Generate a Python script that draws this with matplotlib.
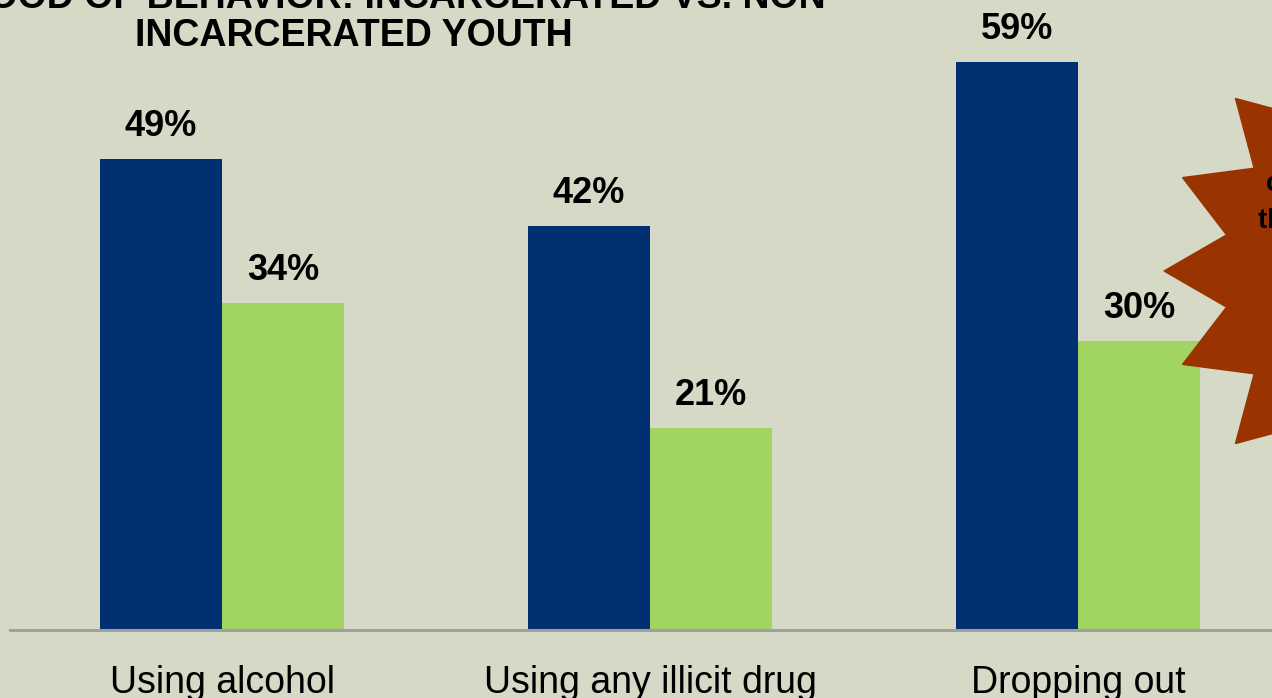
import numpy as np
import matplotlib.pyplot as plt
from matplotlib.patches import Polygon
from matplotlib import rcParams
rcParams['font.family'] = ['Liberation Sans', 'DejaVu Sans']

categories = ["Using alcohol", "Using any illicit drug", "Dropping out"]
incarcerated = [49, 42, 59]
non_incarcerated = [34, 21, 30]
title_line1 = "LIKELIHOOD OF BEHAVIOR: INCARCERATED VS. NON-"
title_line2 = "INCARCERATED YOUTH"
burst_lines = ["compared to", "their peers"]

bg = "#D6D9C6"
blue = "#003072"
green = "#A2D463"
burst = "#993300"

W, H = 1272, 698
fig = plt.figure(figsize=(W / 100, H / 100), dpi=100, facecolor=bg)

# main bar axes: baseline at y=630 px, 9.62 px per percent
ax = fig.add_axes([10 / W, (H - 630) / H, 1262 / W, 630 / H])
ax.set_facecolor(bg)
x = np.arange(len(categories))
bw = 122 / 428
ax.bar(x - bw / 2, incarcerated, bw, color=blue, zorder=2)
ax.bar(x + bw / 2, non_incarcerated, bw, color=green, zorder=2)
for xi, v in zip(x - bw / 2, incarcerated):
    ax.annotate(f"{v}%", (xi, v), xytext=(0, 15), textcoords="offset pixels",
                ha="center", va="bottom", fontsize=26, fontweight="bold")
for xi, v in zip(x + bw / 2, non_incarcerated):
    ax.annotate(f"{v}%", (xi, v), xytext=(0, 15), textcoords="offset pixels",
                ha="center", va="bottom", fontsize=26, fontweight="bold")

ax.set_xlim(-212 / 428, 1050 / 428)
ax.set_ylim(0, 630 / 9.62)
ax.set_xticks(x)
ax.set_xticklabels(categories, fontsize=27)
ax.tick_params(axis="x", length=0, pad=25)
ax.set_yticks([])
for s in ["top", "right", "left"]:
    ax.spines[s].set_visible(False)
ax.spines["bottom"].set_color("#A0A0A0")
ax.spines["bottom"].set_linewidth(2.2)
ax.spines["bottom"].set_zorder(3)

# overlay in pixel coords for title and starburst
ov = fig.add_axes([0, 0, 1, 1], facecolor="none")
ov.set_xlim(0, W)
ov.set_ylim(H, 0)
ov.axis("off")

cx, cy, r_out, r_in, n = 1408, 271, 244, 185, 16
ang = np.pi + np.arange(2 * n) * np.pi / n
rad = np.where(np.arange(2 * n) % 2 == 0, r_out, r_in)
pts = np.column_stack([cx + rad * np.cos(ang), cy + rad * np.sin(ang)])
ov.add_patch(Polygon(pts, closed=True, color=burst, zorder=5))
ov.text(1266, 191, burst_lines[0], ha="left", va="baseline", fontsize=20,
        fontweight="bold", zorder=6)
ov.text(1258, 228, burst_lines[1], ha="left", va="baseline", fontsize=20,
        fontweight="bold", zorder=6)

ov.text(838, 8, title_line1, ha="right", va="baseline", fontsize=27, fontweight="bold")
ov.text(354, 46, title_line2, ha="center", va="baseline", fontsize=27, fontweight="bold")

fig.savefig("out.png", dpi=100, facecolor=bg)
